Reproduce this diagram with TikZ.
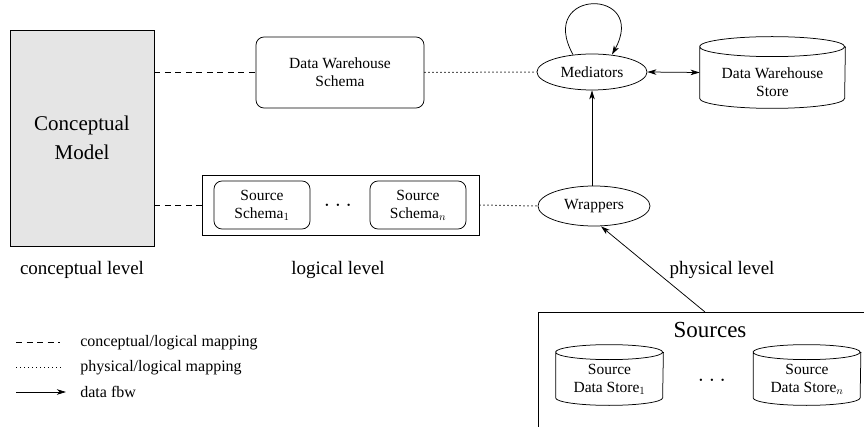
\documentclass[tikz,border=0pt]{standalone}
\usepackage{fontspec}
\setmainfont{Liberation Serif}
\usetikzlibrary{shapes.geometric,arrows.meta}

\newcommand{\storeoutline}[3]{%
  \draw ([yshift=-#3]#1.north west) arc[start angle=180,end angle=-180,x radius=#2,y radius=#3]
    -- ([yshift=#3]#1.south west) arc[start angle=180,end angle=360,x radius=#2,y radius=#3]
    -- ([yshift=-#3]#1.north east);}

\tikzset{
  every node/.style={font=\fontsize{15.5}{18}\selectfont, inner sep=0pt, align=center},
  schemabox/.style={draw, rounded corners=8pt},
  process/.style={draw, ellipse, minimum width=110pt, minimum height=36pt},
  bigstore/.style={minimum width=145pt, minimum height=71pt},
  smallstore/.style={minimum width=107pt, minimum height=60pt},
  levellabel/.style={font=\fontsize{19}{22}\selectfont},
  bigdots/.style={font=\fontsize{24}{26}\selectfont},
  conceptmap/.style={dash pattern=on 6pt off 4.5pt},
  physmap/.style={line width=1pt, dash pattern=on 1.2pt off 2.8pt},
  dataflow/.style={-{Stealth[length=9pt,width=5.5pt,inset=2.5pt]}},
}

\begin{document}
\begin{tikzpicture}[x=1pt,y=1pt,line width=0.75pt]
  \useasboundingbox (0,0) rectangle (864,426);

  % conceptual level
  \node[draw, fill=gray!20, minimum width=144pt, minimum height=216pt,
        font=\fontsize{21}{29}\selectfont] (concept) at (82,288) {Conceptual\\Model};

  % logical level
  \node[schemabox, minimum width=168pt, minimum height=71pt] (dwschema) at (340,353.5) {Data Warehouse\\Schema};
  \node[draw, minimum width=277pt, minimum height=60pt] (logical) at (340.5,221) {};
  \node[schemabox, minimum width=96pt, minimum height=48pt] (schema1) at (262,221) {Source\\Schema$_1$};
  \node[bigdots] (ldots) at (338,221) {$\ldots$};
  \node[schemabox, minimum width=96pt, minimum height=48pt] (scheman) at (418,221) {Source\\Schema$_n$};

  % physical level
  \node[process, minimum width=110pt] (med) at (592,354) {Mediators};
  \node[process, minimum width=112pt, minimum height=40pt] (wrap) at (594,220) {Wrappers};
  \node[bigstore] (dwstore) at (772.5,353.5) {};
  \storeoutline{dwstore}{72.5pt}{10pt}
  \node (dwstoretext) at ([yshift=-10pt]dwstore.center) {Data Warehouse\\Store};

  \node[draw, minimum width=352pt, minimum height=134pt] (sources) at (714,47) {};
  \node[font=\fontsize{23}{26}\selectfont] (sourcestitle) at (710,96) {Sources};
  \node[smallstore] (store1) at (609.5,51) {};
  \storeoutline{store1}{53.5pt}{7.5pt}
  \node (store1text) at ([yshift=-4pt]store1.center) {Source\\Data Store$_1$};
  \node[bigdots] (pdots) at (712,46) {$\ldots$};
  \node[smallstore] (storen) at (807,51) {};
  \storeoutline{storen}{53.5pt}{7.5pt}
  \node (storentext) at ([yshift=-4pt]storen.center) {Source\\Data Store$_n$};

  % level labels
  \node[levellabel] (conclevel) at (82,156) {conceptual level};
  \node[levellabel] (loglevel) at (338,156) {logical level};
  \node[levellabel] (physlevel) at (722,156) {physical level};

  % mappings
  \draw[conceptmap] (concept.east |- dwschema.west) -- (dwschema.west);
  \draw[conceptmap] (concept.east |- logical.west) -- (logical.west);
  \draw[physmap] (dwschema.east) -- (med.west);
  \draw[physmap] (logical.east) -- (wrap.west);

  % data flow
  \coordinate (srcarrow) at (705,114);
  \draw[dataflow] (srcarrow) -- ([xshift=7pt]wrap.south);
  \draw[dataflow] (wrap.north -| med.south) -- (med.south);
  \draw[{Stealth[length=9pt,width=5.5pt,inset=2.5pt]}-{Stealth[length=9pt,width=5.5pt,inset=2.5pt]}]
    (med.east) -- (dwstore.west);
  \draw[dataflow] ([xshift=-19pt,yshift=-1pt]med.north) .. controls +(-37,67) and +(37,67) .. ([xshift=20pt,yshift=-1pt]med.north);

  % legend
  \coordinate (lega) at (16,84);  \coordinate (legb) at (60,84);
  \coordinate (legc) at (16,59);  \coordinate (legd) at (62,59);
  \coordinate (lege) at (16,34);  \coordinate (legf) at (66,34);
  \draw[conceptmap] (lega) -- (legb);
  \draw[physmap] (legc) -- (legd);
  \draw[dataflow] (lege) -- (legf);
  \node[anchor=west, font=\fontsize{16}{18}\selectfont] (legtext1) at (80,83) {conceptual/logical mapping};
  \node[anchor=west, font=\fontsize{16}{18}\selectfont] (legtext2) at (80,58) {physical/logical mapping};
  \node[anchor=west, font=\fontsize{16}{18}\selectfont] (legtext3) at (80,34) {data fbw};
\end{tikzpicture}
\end{document}
